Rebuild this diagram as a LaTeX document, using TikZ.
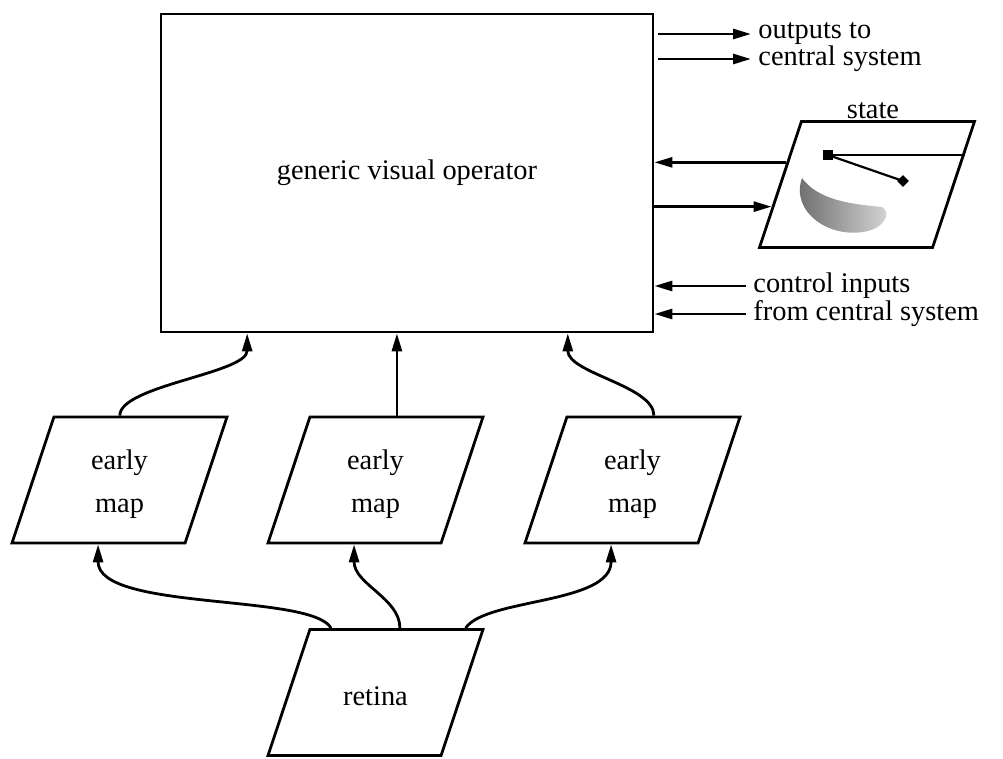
\documentclass[tikz,border=0pt]{standalone}
\usepackage{fontspec}
\setmainfont{Liberation Serif}
\usetikzlibrary{shapes.geometric,arrows.meta,calc}
\begin{document}
\begin{tikzpicture}[x=0.5pt,y=-0.5pt,line width=1.4pt,
  every node/.style={font=\fontsize{14.2}{17}\selectfont},
  op box/.style={draw,rectangle,minimum width=246pt,minimum height=159pt},
  map box/.style={draw,trapezium,trapezium left angle=71.6,trapezium right angle=108.4,
    trapezium stretches body,minimum width=107.5pt,text height=63pt,text depth=0pt,inner sep=0pt},
  map text/.style={label={[align=center,yshift=-2pt]center:#1}},
  arr/.style={-{Triangle[length=9pt,width=5pt]}},
  note/.style={anchor=west,inner ysep=0pt,inner xsep=3pt}]
  \useasboundingbox (0,0) rectangle (1003,759);

  \node[op box] (op) at (407,173) {generic visual operator};
  \node[map box,map text={early\\[4.5pt]map}] (mapA) at (119.5,480) {};
  \node[map box,map text={early\\[4.5pt]map},right of=mapA,node distance=128pt] (mapB) {};
  \node[map box,map text={early\\[4.5pt]map},right of=mapB,node distance=128.5pt] (mapC) {};
  \node[map box,map text={retina},below of=mapB,node distance=106.25pt] (retina) {};

  % state map
  \node[map box,label={[inner sep=0pt,xshift=3pt]above:state}] (st) at (867,184.5) {};
  \node[fill,minimum size=5pt,inner sep=0pt] (sq) at (828,155) {};
  \node[fill,diamond,minimum size=6.5pt,inner sep=0pt] (dm) at (903,181) {};
  \coordinate (sqend) at ($(st.top right corner)!0.264!(st.bottom right corner)$);
  \draw[line width=1.1pt] (sq.center) -- (dm.center);
  \draw[line width=1.1pt] (sq.center) -- (sq.center -| sqend);
  \shade[left color=black!60,right color=black!15] (802,178) .. controls (790,212) and (830,240) .. (868,231)
    .. controls (884,227) and (892,213) .. (882,207) .. controls (850,204) and (818,200) .. cycle;

  % outputs and control inputs
  \node[note] (outA) at (751,34) {outputs to};
  \node[note] (outB) at (751,59) {central system};
  \node[note] (ctlA) at (746,286) {control inputs};
  \node[note] (ctlB) at (746,314) {from central system};
  \draw[arr] ($(op.east |- outA.west)+(4,0)$) -- (outA.west);
  \draw[arr] ($(op.east |- outB.west)+(4,0)$) -- (outB.west);
  \draw[arr] (ctlA.west) -- (ctlA.west -| op.east);
  \draw[arr] (ctlB.west) -- (ctlB.west -| op.east);

  % to and from the state
  \coordinate (stA) at ($(st.bottom left corner)!0.672!(st.top left corner)$);
  \coordinate (stB) at ($(st.bottom left corner)!0.328!(st.top left corner)$);
  \draw[arr] (stA) -- (stA -| op.east);
  \draw[arr] (stB -| op.east) -- (stB);

  % early maps into the operator
  \coordinate (inA) at ($(op.south west)!0.177!(op.south east)$);
  \coordinate (inC) at ($(op.south west)!0.825!(op.south east)$);
  \coordinate (upA) at ($(mapA.top left corner)!0.38!(mapA.top right corner)$);
  \coordinate (upB) at ($(mapB.top left corner)!0.5!(mapB.top right corner)$);
  \coordinate (upC) at ($(mapC.top left corner)!0.5!(mapC.top right corner)$);
  \draw[arr] (upA) .. controls +(0,-30) and +(0,40) .. (inA);
  \draw[arr] (upB) -- (upB |- op.south);
  \draw[arr] (upC) .. controls +(0,-30) and +(0,40) .. (inC);

  % retina into the early maps
  \coordinate (rA) at ($(retina.top left corner)!0.126!(retina.top right corner)$);
  \coordinate (rB) at ($(retina.top left corner)!0.517!(retina.top right corner)$);
  \coordinate (rC) at ($(retina.top left corner)!0.89!(retina.top right corner)$);
  \coordinate (dnA) at ($(mapA.bottom left corner)!0.5!(mapA.bottom right corner)$);
  \coordinate (dnB) at ($(mapB.bottom left corner)!0.5!(mapB.bottom right corner)$);
  \coordinate (dnC) at ($(mapC.bottom left corner)!0.5!(mapC.bottom right corner)$);
  \draw[arr] (rA) .. controls +(-20,-35) and +(0,67) .. (dnA);
  \draw[arr] (rB) .. controls +(0,-30) and +(0,40) .. (dnB);
  \draw[arr] (rC) .. controls +(20,-30) and +(0,60) .. (dnC);
\end{tikzpicture}
\end{document}
